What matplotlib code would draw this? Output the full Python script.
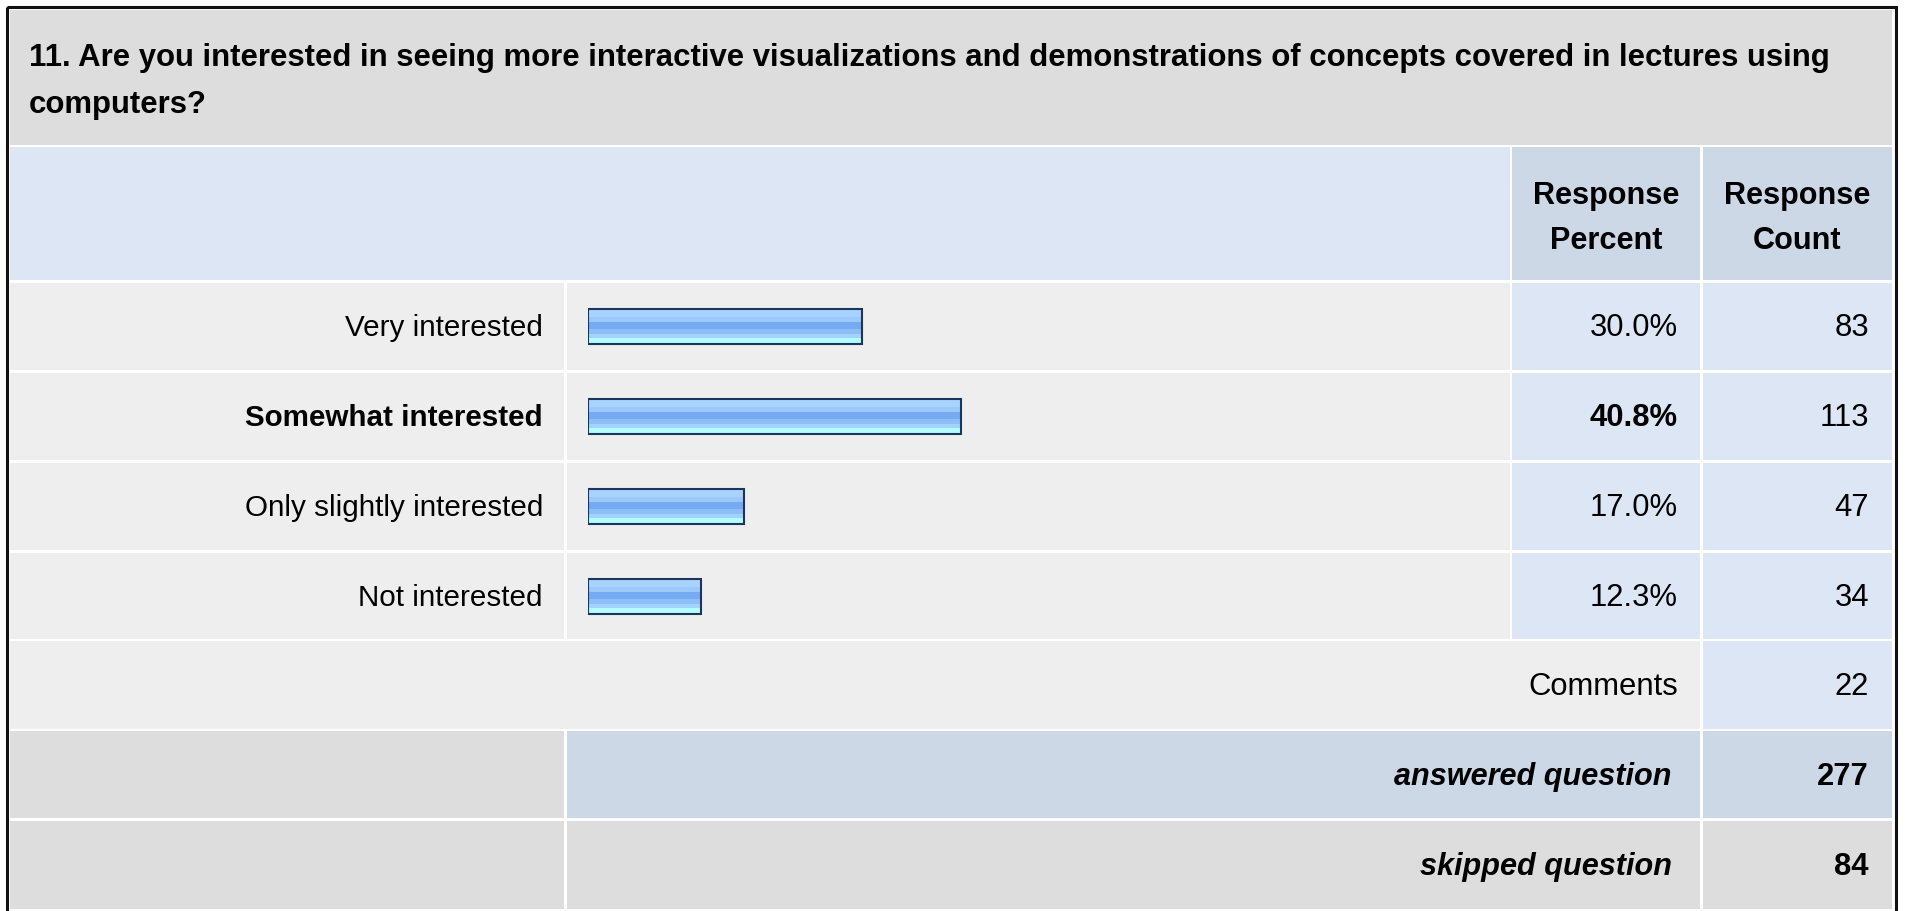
import numpy as np
import matplotlib
matplotlib.use('Agg')
import matplotlib.pyplot as plt
from matplotlib.patches import Rectangle
from matplotlib.colors import to_rgb

plt.rcParams['font.family'] = ['Liberation Sans', 'DejaVu Sans']

# survey data
question_lines = ['11. Are you interested in seeing more interactive visualizations and demonstrations of concepts covered in lectures using',
                  'computers?']
answers = ['Very interested', 'Somewhat interested', 'Only slightly interested', 'Not interested']
percents = [30.0, 40.8, 17.0, 12.3]
counts = [83, 113, 47, 34]
comments = 22
answered = 277
skipped = 84

W, H = 1915, 911
fs_title = 22.4
fs_head = 22.1
fs_lab = 21.3
fs_num = 22.3

fig = plt.figure(figsize=(W/100, H/100), dpi=100)
fig.patch.set_facecolor('white')
ax = fig.add_axes([0, 0, 1, 1])
ax.set_xlim(0, W)
ax.set_ylim(H, 0)
ax.axis('off')

GRAY = '#dddddd'
LGRAY = '#eeeeee'
LBLUE = '#dce6f4'
MBLUE = '#ccd8e6'

def cell(x0, x1, y0, y1, c):
	ax.add_patch(Rectangle((x0, y0), x1-x0, y1-y0, facecolor=c, edgecolor='none', zorder=1))

# column edges
c0, c1, c2, c3, c4, c5, c6, c7 = 10, 564, 567, 1510, 1512, 1700, 1703, 1892
rows = [(283, 370), (373, 460), (463, 550), (553, 639)]
cell(c0, c7, 10, 145, GRAY)
cell(c0, c3, 147, 280, LBLUE)
cell(c4, c5, 147, 280, MBLUE)
cell(c6, c7, 147, 280, MBLUE)
for (y0, y1) in rows:
	cell(c0, c1, y0, y1, LGRAY)
	cell(c2, c3, y0, y1, LGRAY)
	cell(c4, c5, y0, y1, LBLUE)
	cell(c6, c7, y0, y1, LBLUE)
cell(c0, c5, 641, 729, LGRAY)
cell(c6, c7, 641, 729, LBLUE)
cell(c0, c1, 731, 818, GRAY)
cell(c2, c5, 731, 818, MBLUE)
cell(c6, c7, 731, 818, MBLUE)
cell(c0, c1, 821, 909, GRAY)
cell(c2, c5, 821, 909, GRAY)
cell(c6, c7, 821, 909, GRAY)
ax.add_patch(Rectangle((7, 7), 1889, 915, facecolor='none', edgecolor='#111111', lw=2.2, zorder=3))

# title
ax.text(29, 66, question_lines[0], fontsize=fs_title, fontweight='bold', va='baseline', ha='left', zorder=4)
ax.text(29, 113, question_lines[1], fontsize=fs_title, fontweight='bold', va='baseline', ha='left', zorder=4)

# header
for xc, word in [((c4+c5)/2, 'Percent'), ((c6+c7)/2, 'Count')]:
	ax.text(xc, 204, 'Response', fontsize=fs_head, fontweight='bold', ha='center', va='baseline', zorder=4)
	ax.text(xc, 249, word, fontsize=fs_head, fontweight='bold', ha='center', va='baseline', zorder=4)

best = int(np.argmax(percents))
for i, (y0, y1) in enumerate(rows):
	yb = (y0+y1)/2 + 10
	w = 'bold' if i == best else 'normal'
	ax.text(543, yb, answers[i], fontsize=fs_lab, fontweight=w, ha='right', va='baseline', zorder=4)
	ax.text(1678, yb, '%.1f%%' % percents[i], fontsize=fs_num, fontweight=w, ha='right', va='baseline', zorder=4)
	ax.text(1869, yb, str(counts[i]), fontsize=fs_num, ha='right', va='baseline', zorder=4)

ax.text(1678, 695, 'Comments', fontsize=fs_num, ha='right', va='baseline', zorder=4)
ax.text(1869, 695, str(comments), fontsize=fs_num, ha='right', va='baseline', zorder=4)
ax.text(1672, 785, 'answered question', fontsize=fs_head, fontweight='bold', style='italic', ha='right', va='baseline', zorder=4)
ax.text(1869, 785, str(answered), fontsize=fs_num, fontweight='bold', ha='right', va='baseline', zorder=4)
ax.text(1672, 875, 'skipped question', fontsize=fs_head, fontweight='bold', style='italic', ha='right', va='baseline', zorder=4)
ax.text(1869, 875, str(skipped), fontsize=fs_num, fontweight='bold', ha='right', va='baseline', zorder=4)

# bars: 0..100 % mapped on 588..1503 px
bx = fig.add_axes([588/W, 1-641.5/H, 915/W, 360/H])
bx.axis('off')
bx.patch.set_alpha(0)
band_cols = ['#d0e8ff', '#a9d3ff', '#9bc9fb', '#76aaf2', '#8dbef7', '#a2d3fc', '#b3fdff']
band_h = [2, 6, 4, 6, 4, 4, 5]
grad = np.repeat(np.array([to_rgb(c) for c in band_cols]), band_h, axis=0)[:, None, :]
bh = 0.39
ypos = np.arange(len(answers))
for i, p in enumerate(percents):
	bx.imshow(grad, extent=(0, p, i+bh/2, i-bh/2), aspect='auto', interpolation='nearest', zorder=1)
bx.barh(ypos, percents, height=bh, left=0, color='none', edgecolor='#1c355e', lw=1.5, zorder=2)
bx.set_xlim(0, 100)
bx.set_ylim(3.5, -0.5)

fig.savefig('out.png', dpi=100)
